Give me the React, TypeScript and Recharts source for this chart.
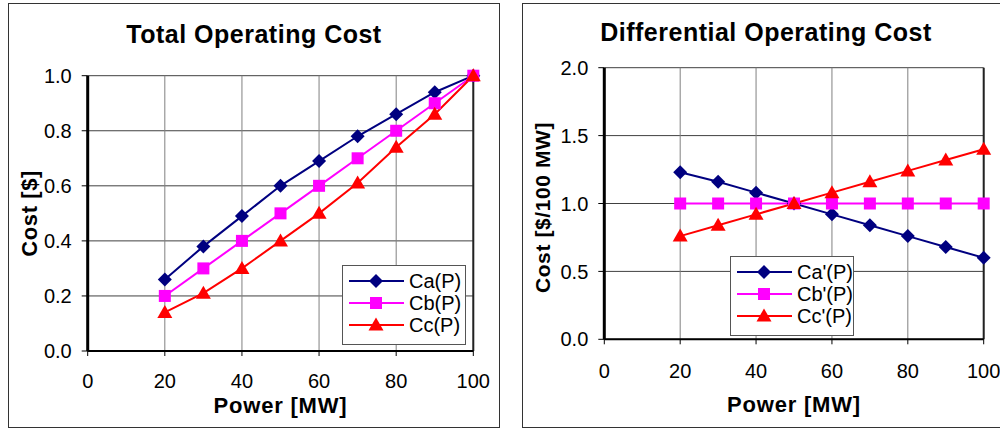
import React from 'react';
import {
  LineChart, Line, XAxis, YAxis, CartesianGrid, Legend, Label, ReferenceLine,
} from 'recharts';

// values
const power = [20, 30, 40, 50, 60, 70, 80, 90, 100];

const totalCa = [0.26, 0.38, 0.49, 0.6, 0.69, 0.78, 0.86, 0.94, 1.0];
const totalCb = [0.2, 0.3, 0.4, 0.5, 0.6, 0.7, 0.8, 0.9, 1.0];
const totalCc = [0.14, 0.21, 0.3, 0.4, 0.5, 0.61, 0.74, 0.86, 1.0];

const diffCa = [1.23, 1.16, 1.08, 1.0, 0.92, 0.84, 0.76, 0.68, 0.6];
const diffCb = [1.0, 1.0, 1.0, 1.0, 1.0, 1.0, 1.0, 1.0, 1.0];
const diffCc = [0.76, 0.84, 0.92, 1.0, 1.08, 1.16, 1.24, 1.32, 1.4];

const powerTicks = [0, 20, 40, 60, 80, 100];
const totalTicks = [0, 0.2, 0.4, 0.6, 0.8, 1.0];
const diffTicks = [0, 0.5, 1.0, 1.5, 2.0];

const totalData = power.map((p, i) => ({ p, a: totalCa[i], b: totalCb[i], c: totalCc[i] }));
const diffData = power.map((p, i) => ({ p, a: diffCa[i], b: diffCb[i], c: diffCc[i] }));

const FONT = '"Liberation Sans", Arial, sans-serif';

type Shape = 'diamond' | 'square' | 'triangle';

const series: { key: string; color: string; shape: Shape }[] = [
  { key: 'a', color: '#000080', shape: 'diamond' },
  { key: 'b', color: '#FF00FF', shape: 'square' },
  { key: 'c', color: '#FF0000', shape: 'triangle' },
];

function Marker({ cx, cy, shape, color }: { cx: number; cy: number; shape: Shape; color: string }) {
  if (shape === 'diamond') {
    return <polygon points={`${cx},${cy - 7} ${cx + 7},${cy} ${cx},${cy + 7} ${cx - 7},${cy}`} fill={color} />;
  }
  if (shape === 'square') {
    return <rect x={cx - 6} y={cy - 6} width={12} height={12} fill={color} />;
  }
  return <polygon points={`${cx},${cy - 7.5} ${cx + 7.5},${cy + 5.5} ${cx - 7.5},${cy + 5.5}`} fill={color} />;
}

function LegendBox({ names }: { names: string[] }) {
  return (
    <div style={{
      width: 124, height: 80, boxSizing: 'border-box', border: '1px solid #555',
      background: '#fff', paddingTop: 4, fontFamily: FONT,
    }}>
      {series.map((s, i) => (
        <div key={s.key} style={{ display: 'flex', alignItems: 'center', height: 22 }}>
          <svg width={66} height={22} style={{ display: 'block' }}>
            <line x1={6} x2={61} y1={11} y2={11} stroke={s.color} strokeWidth={2} />
            <Marker cx={33} cy={11} shape={s.shape} color={s.color} />
          </svg>
          <span style={{ fontSize: 20, lineHeight: '22px', color: '#000' }}>{names[i]}</span>
        </div>
      ))}
    </div>
  );
}

type PanelProps = {
  left: number;
  width: number;
  chartWidth: number;
  data: any[];
  yTicks: number[];
  yMax: number;
  margin: { top: number; right: number };
  yAxisWidth: number;
  xAxisHeight: number;
  xTickMargin: number;
  title: string;
  titleCenter: number;
  titleTop: number;
  yLabel: string;
  yLabelX: number;
  yLabelDy: number;
  yLabelSize: number;
  xLabelDy: number;
  legendNames: string[];
  legendPos: { left: number; top: number };
};

function Panel(props: PanelProps) {
  const {
    left, width, chartWidth, data, yTicks, yMax, margin, yAxisWidth, xAxisHeight, xTickMargin, title,
    titleCenter, titleTop, yLabel, yLabelX, yLabelDy, yLabelSize, xLabelDy, legendNames, legendPos,
  } = props;
  return (
    <div style={{
      position: 'absolute', left, top: 3, width, height: 425, boxSizing: 'border-box',
      border: '1px solid #333', background: '#fff', fontFamily: FONT,
    }}>
      <div style={{
        position: 'absolute', left: titleCenter - 200, width: 400, top: titleTop, textAlign: 'center',
        fontSize: 25, lineHeight: '25px', fontWeight: 'bold', letterSpacing: 0.5, color: '#000', whiteSpace: 'nowrap',
      }}>{title}</div>
      <LineChart
        width={chartWidth}
        height={423}
        data={data}
        margin={{ top: margin.top, right: margin.right, bottom: 0, left: 0 }}
        style={{ fontFamily: FONT }}
      >
        <CartesianGrid vertical={false} stroke="#404040" strokeWidth={1} />
        <CartesianGrid horizontal={false} stroke="#808080" strokeWidth={1} />
        <ReferenceLine x={100} stroke="#222" strokeWidth={2} />
        <XAxis
          dataKey="p"
          type="number"
          domain={[0, 100]}
          ticks={powerTicks}
          height={xAxisHeight}
          axisLine={{ stroke: '#000', strokeWidth: 2 }}
          tickLine={{ stroke: '#000' }}
          tickSize={5}
          tickMargin={xTickMargin}
          tick={{ fontSize: 20, fill: '#000' }}
        >
          <Label
            content={({ viewBox }: any) => (
              <text
                x={viewBox.x + viewBox.width / 2}
                y={viewBox.y + xLabelDy}
                textAnchor="middle"
                fontSize={22}
                fontWeight="bold"
                letterSpacing={0.8}
                fill="#000"
              >Power [MW]</text>
            )}
          />
        </XAxis>
        <YAxis
          type="number"
          domain={[0, yMax]}
          ticks={yTicks}
          width={yAxisWidth}
          axisLine={{ stroke: '#000', strokeWidth: 3 }}
          tickLine={{ stroke: '#000' }}
          tickSize={6}
          tickMargin={10}
          tick={{ fontSize: 20, fill: '#000' }}
          tickFormatter={(v: number) => v.toFixed(1)}
        >
          <Label
            content={({ viewBox }: any) => {
              const x = viewBox.x + yLabelX;
              const y = viewBox.y + viewBox.height / 2 + yLabelDy;
              return (
                <text
                  x={x}
                  y={y}
                  transform={`rotate(-90, ${x}, ${y})`}
                  textAnchor="middle"
                  dominantBaseline="central"
                  fontSize={yLabelSize}
                  fontWeight="bold"
                  letterSpacing={0.6}
                  fill="#000"
                >{yLabel}</text>
              );
            }}
          />
        </YAxis>
        <Legend
          layout="vertical"
          align="center"
          verticalAlign="middle"
          wrapperStyle={{ left: legendPos.left, top: legendPos.top, width: 124, height: 80 }}
          content={() => <LegendBox names={legendNames} />}
        />
        {series.map((s, i) => (
          <Line
            key={s.key}
            dataKey={s.key}
            name={legendNames[i]}
            stroke={s.color}
            strokeWidth={2}
            isAnimationActive={false}
            dot={(d: any) => <Marker key={`${s.key}-${d.index}`} cx={d.cx} cy={d.cy} shape={s.shape} color={s.color} />}
            activeDot={false}
          />
        ))}
      </LineChart>
    </div>
  );
}

export default function App() {
  return (
    <div style={{ position: 'absolute', left: 0, top: 0, width: 1000, height: 429, overflow: 'hidden', background: '#fff' }}>
      <Panel
        left={8}
        width={492}
        chartWidth={490}
        data={totalData}
        yTicks={totalTicks}
        yMax={1}
        margin={{ top: 71.7, right: 25.7 }}
        yAxisWidth={78.7}
        xAxisHeight={76}
        xTickMargin={18}
        title="Total Operating Cost"
        titleCenter={245}
        titleTop={18}
        yLabel="Cost [$]"
        yLabelX={21}
        yLabelDy={0}
        yLabelSize={22}
        xLabelDy={62}
        legendNames={['Ca(P)', 'Cb(P)', 'Cc(P)']}
        legendPos={{ left: 333, top: 261 }}
      />
      <Panel
        left={522}
        width={490}
        chartWidth={488}
        data={diffData}
        yTicks={diffTicks}
        yMax={2}
        margin={{ top: 63.7, right: 27.3 }}
        yAxisWidth={81.3}
        xAxisHeight={87.7}
        xTickMargin={19}
        title="Differential Operating Cost"
        titleCenter={243}
        titleTop={16}
        yLabel="Cost [$/100 MW]"
        yLabelX={19.5}
        yLabelDy={4}
        yLabelSize={21}
        xLabelDy={72.4}
        legendNames={["Ca'(P)", "Cb'(P)", "Cc'(P)"]}
        legendPos={{ left: 207, top: 251.7 }}
      />
    </div>
  );
}
